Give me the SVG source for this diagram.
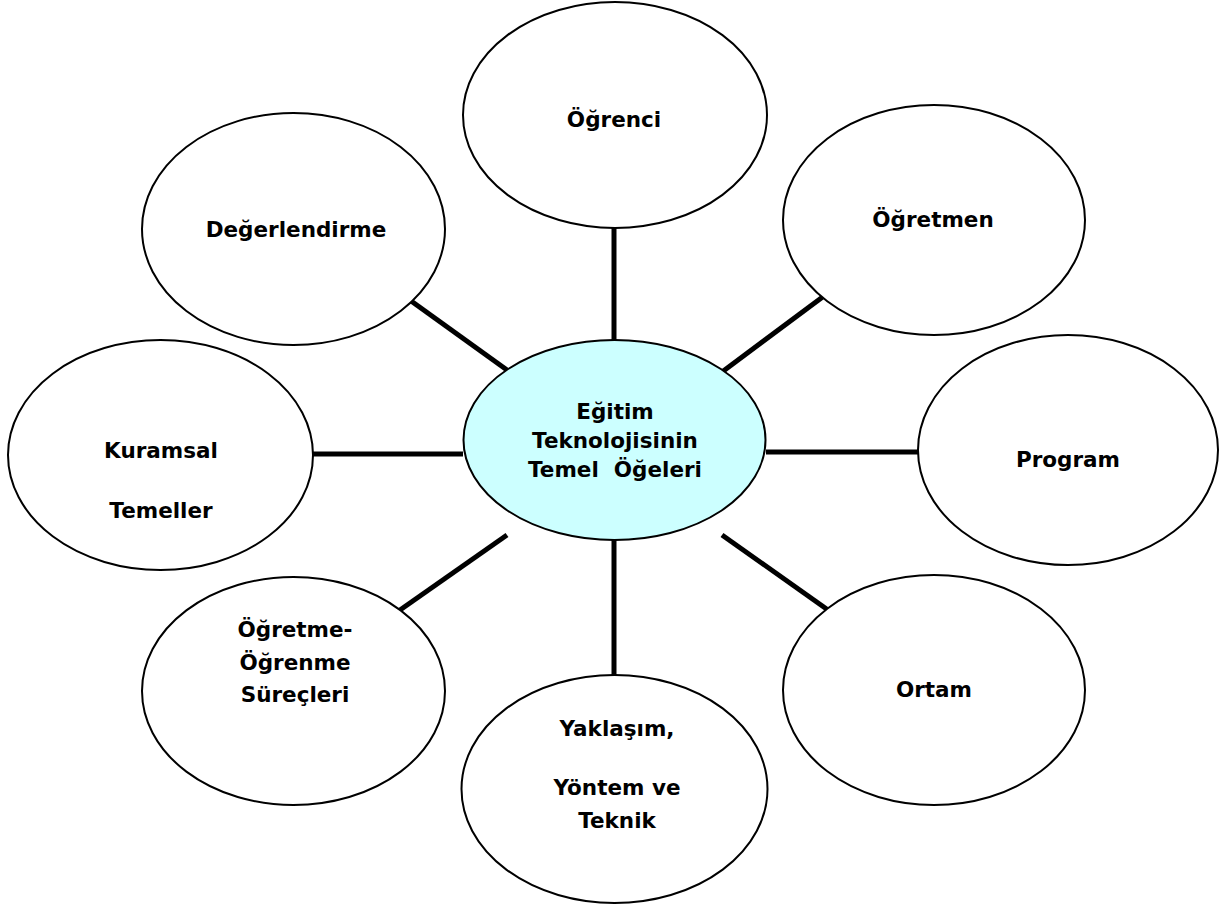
<svg xmlns="http://www.w3.org/2000/svg" width="1221" height="908" viewBox="0 0 1221 908">
<style>
.n{fill:#fff;stroke:#000;stroke-width:2}
.c{fill:#ccffff;stroke:#000;stroke-width:2}
.t{font-family:"DejaVu Sans","Liberation Sans",sans-serif;font-weight:bold;font-size:21.5px;fill:#000;text-anchor:middle}
.e{stroke:#000;stroke-width:5;fill:none}
</style>
<rect width="1221" height="908" fill="#fff"/>
<g id="connectors">
<line class="e" x1="614" y1="228" x2="614" y2="340"/>
<line class="e" x1="828" y1="293" x2="722" y2="372"/>
<line class="e" x1="918" y1="452" x2="766" y2="452"/>
<line class="e" x1="828" y1="610" x2="722" y2="535"/>
<line class="e" x1="614" y1="540" x2="614" y2="676"/>
<line class="e" x1="400" y1="610" x2="507" y2="535"/>
<line class="e" x1="313" y1="454" x2="463" y2="454"/>
<line class="e" x1="400" y1="293" x2="507" y2="370"/>
</g>
<g id="center">
<ellipse class="c" cx="614.5" cy="440" rx="151" ry="100"/>
<text class="t" x="615" y="419">Eğitim</text>
<text class="t" x="615" y="448">Teknolojisinin</text>
<text class="t" x="615" y="477" xml:space="preserve">Temel  Öğeleri</text>
</g>
<g id="ogrenci">
<ellipse class="n" cx="615" cy="115" rx="152" ry="113"/>
<text class="t" x="614" y="127">Öğrenci</text>
</g>
<g id="ogretmen">
<ellipse class="n" cx="934" cy="220" rx="151" ry="115"/>
<text class="t" x="933" y="227">Öğretmen</text>
</g>
<g id="program">
<ellipse class="n" cx="1068" cy="450" rx="150" ry="115"/>
<text class="t" x="1068" y="467">Program</text>
</g>
<g id="ortam">
<ellipse class="n" cx="934" cy="690" rx="151" ry="115"/>
<text class="t" x="934" y="697">Ortam</text>
</g>
<g id="yaklasim">
<ellipse class="n" cx="614.5" cy="789" rx="153" ry="114"/>
<text class="t" x="617" y="736">Yaklaşım,</text>
<text class="t" x="617" y="795">Yöntem ve</text>
<text class="t" x="617" y="828">Teknik</text>
</g>
<g id="ogretme">
<ellipse class="n" cx="293.5" cy="691" rx="151.5" ry="114"/>
<text class="t" x="295" y="637">Öğretme-</text>
<text class="t" x="295" y="670">Öğrenme</text>
<text class="t" x="295" y="702">Süreçleri</text>
</g>
<g id="kuramsal">
<ellipse class="n" cx="160.5" cy="455" rx="152.5" ry="115"/>
<text class="t" x="161" y="458">Kuramsal</text>
<text class="t" x="161" y="518">Temeller</text>
</g>
<g id="degerlendirme">
<ellipse class="n" cx="293.5" cy="229" rx="151.5" ry="116"/>
<text class="t" x="296" y="237">Değerlendirme</text>
</g>
</svg>
